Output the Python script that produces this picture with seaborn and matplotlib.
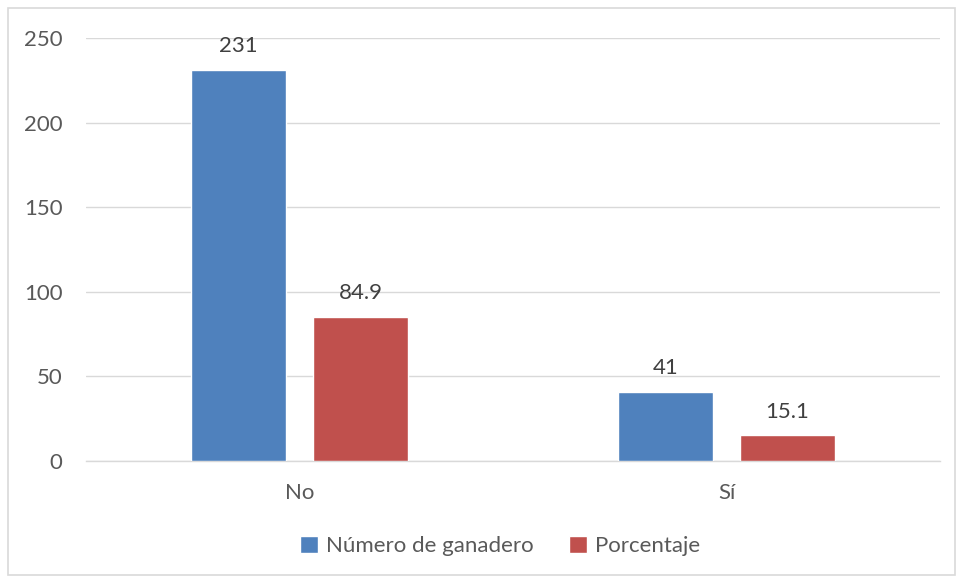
import matplotlib
matplotlib.use("Agg")
import matplotlib.pyplot as plt
import seaborn as sns
import pandas as pd
from matplotlib.patches import Rectangle

categories = ["No", "Sí"]
series_names = ["Número de ganadero", "Porcentaje"]
numero = [231, 41]
porcentaje = [84.9, 15.1]
label_text_numero = ["231", "41"]
label_text_pct = ["84.9", "15.1"]
yticks = [0, 50, 100, 150, 200, 250]

df = pd.DataFrame({
    "cat": categories * 2,
    "serie": [series_names[0]] * 2 + [series_names[1]] * 2,
    "val": numero + porcentaje,
})

sns.set_style("white")
plt.rcParams["font.family"] = ["Lato", "DejaVu Sans"]

W, H = 962, 579
fig = plt.figure(figsize=(W / 100, H / 100), dpi=100)
ax = fig.add_axes([86 / W, 1 - 461 / H, (940 - 86) / W, (461 - 38) / H])

palette = {series_names[0]: "#4F81BD", series_names[1]: "#C0504D"}
sns.barplot(data=df, x="cat", y="val", hue="serie", order=categories,
            hue_order=series_names, palette=palette, width=0.572, gap=0.22,
            saturation=1, ax=ax, legend=True, zorder=3)

ax.set_xlim(-0.5, 1.5)
ax.set_ylim(0, 250)
ax.set_yticks(yticks)
ax.set_yticklabels([str(t) for t in yticks])
ax.set_xlabel("")
ax.set_ylabel("")
ax.grid(axis="y", color="#D9D9D9", linewidth=1, zorder=0)
ax.set_axisbelow(True)
for s in ["top", "right", "left"]:
    ax.spines[s].set_visible(False)
ax.spines["bottom"].set_color("#D9D9D9")
ax.spines["bottom"].set_linewidth(1)
ax.tick_params(axis="both", length=0, labelsize=16, colors="#595959")
ax.tick_params(axis="y", pad=17)
ax.tick_params(axis="x", pad=16)

texts = [label_text_numero, label_text_pct]
for cont, labs in zip(ax.containers, texts):
    ax.bar_label(cont, labels=labs, padding=10, fontsize=16, color="#404040")

handles, labels = ax.get_legend_handles_labels()
ax.legend_.remove()
fig.legend(handles, labels, loc="center", bbox_to_anchor=(500 / W, 1 - 546 / H),
           ncol=2, frameon=False, fontsize=16, labelcolor="#595959",
           handlelength=0.8, handleheight=0.8, handletextpad=0.35,
           columnspacing=1.6)

fig.patches.append(Rectangle((8 / W, 4 / H), (955 - 8) / W, (571 - 4) / H,
                             transform=fig.transFigure, fill=False,
                             edgecolor="#D9D9D9", linewidth=1.2))

fig.savefig("out.png", dpi=100, facecolor="white")
